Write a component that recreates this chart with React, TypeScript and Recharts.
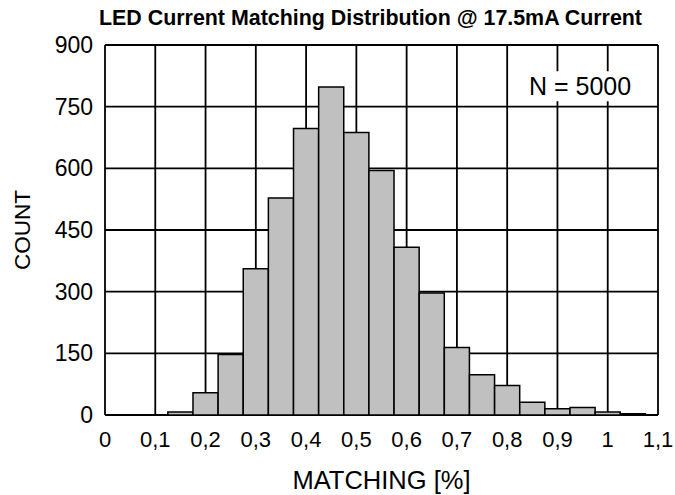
import { BarChart, Bar, XAxis, YAxis, CartesianGrid, ReferenceArea } from "recharts";

// histogram bin centres (bin width 0.05)
const binCenters = [0.15, 0.2, 0.25, 0.3, 0.35, 0.4, 0.45, 0.5, 0.55, 0.6, 0.65, 0.7, 0.75, 0.8, 0.85, 0.9, 0.95, 1.0, 1.05];
const counts = [7, 54, 147, 356, 528, 697, 798, 687, 595, 408, 297, 164, 98, 72, 31, 15, 18, 7, 3];

const xTicks = [0, 0.1, 0.2, 0.3, 0.4, 0.5, 0.6, 0.7, 0.8, 0.9, 1, 1.1];
const yTicks = [0, 150, 300, 450, 600, 750, 900];

const data = binCenters.map((x, i) => ({ x, count: counts[i] }));

const FONT = '"Liberation Sans", Arial, sans-serif';
const W = 675;
const H = 495;
const plotW = 553;
const binWidth = 0.05;

const fmt = (v: number) => String(v).replace(".", ",");

// slightly under the band so recharts doesn't fall back to 90% width
const barSize = (plotW * binWidth) / 1.1 - 0.05;

export default function App() {
  return (
    <div style={{ position: "absolute", left: 0, top: 0, width: W, height: H, background: "#fff", fontFamily: FONT }}>
      <div
        style={{
          position: "absolute",
          left: 0,
          top: 8,
          width: 741,
          textAlign: "center",
          fontSize: 21.4,
          lineHeight: "21.4px",
          fontWeight: "bold",
          color: "#000",
          whiteSpace: "nowrap",
        }}
      >
        LED Current Matching Distribution @ 17.5mA Current
      </div>
      <BarChart
        width={W}
        height={H}
        data={data}
        barCategoryGap={0}
        barGap={0}
        margin={{ top: 45, right: 17, left: 0, bottom: 0 }}
      >
        <CartesianGrid stroke="#000" strokeWidth={1.8} />
        <XAxis
          dataKey="x"
          type="number"
          domain={[0, 1.1]}
          ticks={xTicks}
          tickFormatter={fmt}
          height={80}
          axisLine={false}
          tickLine={false}
          tickSize={0}
          tickMargin={16}
          tick={{ fill: "#000", fontSize: 22, fontFamily: FONT }}
          label={{ value: "MATCHING [%]", position: "insideBottom", offset: 6, fill: "#000", fontSize: 25.5, fontFamily: FONT }}
        />
        <YAxis
          type="number"
          domain={[0, 900]}
          ticks={yTicks}
          width={105}
          axisLine={false}
          tickLine={false}
          tickSize={0}
          tickMargin={12}
          tick={{ fill: "#000", fontSize: 23, fontFamily: FONT }}
          label={{ value: "COUNT", angle: -90, position: "center", dx: -30, fill: "#000", fontSize: 22.5, fontFamily: FONT }}
        />
        <ReferenceArea
          x1={0.84}
          x2={1.05}
          y1={763}
          y2={836}
          fill="#fff"
          fillOpacity={1}
          stroke="none"
          label={{ value: "N = 5000", position: "center", fill: "#000", fontSize: 25, fontFamily: FONT }}
        />
        <Bar
          dataKey="count"
          fill="#c0c0c0"
          stroke="#000"
          strokeWidth={1.5}
          barSize={barSize}
          isAnimationActive={false}
        />
      </BarChart>
    </div>
  );
}
